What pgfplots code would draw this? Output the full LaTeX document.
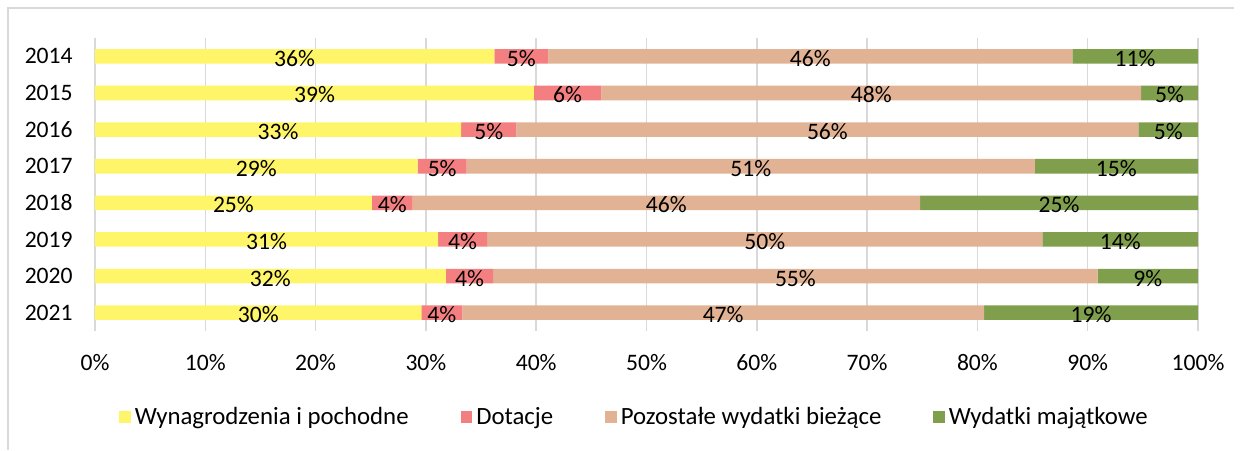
\documentclass[border=0pt]{standalone}
\usepackage{pgfplots}
\pgfplotsset{compat=1.18}
\usepackage{fontspec}
\setmainfont{Carlito}

\definecolor{wyn}{HTML}{FFF568}
\definecolor{dot}{HTML}{F47F80}
\definecolor{poz}{HTML}{E1B293}
\definecolor{maj}{HTML}{7F9F4C}
\definecolor{gridgray}{HTML}{D9D9D9}
\newcommand\chartfont{\fontsize{11.8}{14}\selectfont}
\newcommand\legfont{\fontsize{12.4}{14}\selectfont}

\begin{document}
\begin{tikzpicture}
\path[use as bounding box] (0,0) rectangle (621pt,-225pt);
\draw[gridgray, line width=0.75pt] (4pt,-225pt) -- (4pt,-4pt) -- (617pt,-4pt);
\begin{axis}[
    at={(47.5pt,-165.5pt)}, anchor=south west,
    scale only axis, width=551.5pt, height=146.5pt,
    xbar stacked, bar width=7.3pt,
    xmin=0, xmax=100, ymin=-0.5, ymax=7.5, y dir=reverse,
    ytick={0,...,7},
    yticklabels={2014,2015,2016,2017,2018,2019,2020,2021},
    xtick={0,10,...,100},
    xticklabel={\pgfmathprintnumber{\tick}\%},
    /pgf/number format/assume math mode=true,
    axis line style={draw=none},
    major tick length=0pt,
    xmajorgrids, grid style={gridgray, line width=0.75pt},
    tick label style={font=\chartfont},
    xticklabel style={anchor=center, yshift=-16pt},
    yticklabel style={anchor=east, inner sep=0pt, xshift=-11pt},
    point meta=explicit symbolic,
    nodes near coords,
    every node near coord/.append style={anchor=center, font=\chartfont, text=black, yshift=-1pt},
    legend columns=4,
    legend image code/.code={\fill[#1] (0pt,-2.9pt) rectangle (5.8pt,2.9pt);},
    legend style={draw=none, fill=none, at={(0.5,0)}, anchor=center,
        yshift=-43pt, xshift=-5.5pt, font=\legfont,
        /tikz/every even column/.append style={column sep=24pt}},
]
\addplot[fill=wyn, draw=none] coordinates {
    (36.2,0) [36\%] (39.8,1) [39\%] (33.2,2) [33\%] (29.25,3) [29\%]
    (25.1,4) [25\%] (31.1,5) [31\%] (31.8,6) [32\%] (29.6,7) [30\%]
};
\addplot[fill=dot, draw=none] coordinates {
    (4.9,0) [5\%] (6.1,1) [6\%] (5.0,2) [5\%] (4.45,3) [5\%]
    (3.7,4) [4\%] (4.45,5) [4\%] (4.3,6) [4\%] (3.7,7) [4\%]
};
\addplot[fill=poz, draw=none] coordinates {
    (47.5,0) [46\%] (48.95,1) [48\%] (56.4,2) [56\%] (51.5,3) [51\%]
    (46.0,4) [46\%] (50.35,5) [50\%] (54.8,6) [55\%] (47.3,7) [47\%]
};
\addplot[fill=maj, draw=none] coordinates {
    (11.4,0) [11\%] (5.15,1) [5\%] (5.4,2) [5\%] (14.8,3) [15\%]
    (25.2,4) [25\%] (14.1,5) [14\%] (9.1,6) [9\%] (19.4,7) [19\%]
};
\legend{Wynagrodzenia i pochodne, Dotacje, Pozostałe wydatki bieżące, Wydatki majątkowe}
\end{axis}
\end{tikzpicture}
\end{document}
